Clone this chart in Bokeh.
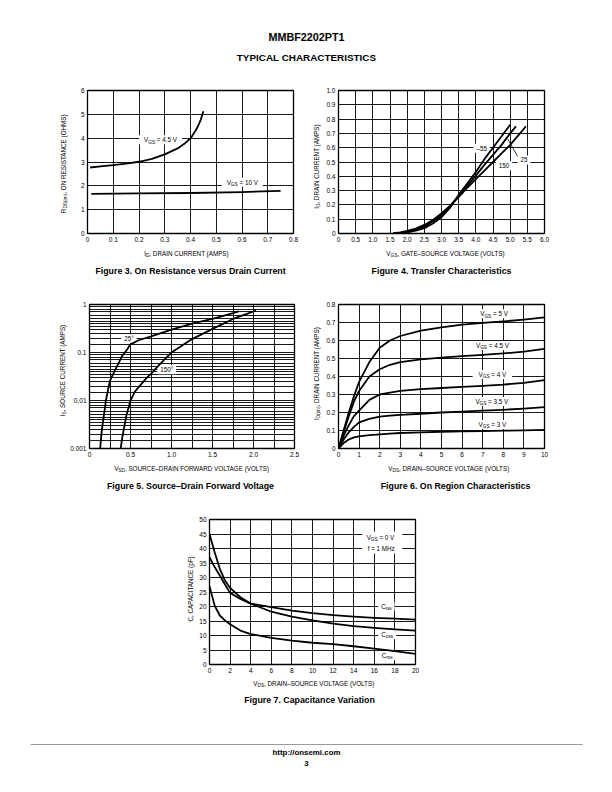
import math
from bokeh.plotting import figure
from bokeh.models import Range1d, FixedTicker, Label
from bokeh.layouts import column, row
from bokeh.embed import file_html
from bokeh.resources import INLINE

FONT = "Liberation Sans"

# ---------------- data ----------------
# Figure 3: on resistance vs drain current
f3_x_ticks = [0, 0.1, 0.2, 0.3, 0.4, 0.5, 0.6, 0.7, 0.8]
f3_x_labels = ["0", "0.1", "0.2", "0.3", "0.4", "0.5", "0.6", "0.7", "0.8"]
f3_y_ticks = [0, 1, 2, 3, 4, 5, 6]
f3_y_labels = ["0", "1", "2", "3", "4", "5", "6"]
f3_id_45 = [0.01, 0.05, 0.1, 0.15, 0.2, 0.25, 0.3, 0.35, 0.38, 0.4, 0.42, 0.43, 0.44, 0.45]
f3_r_45 = [2.77, 2.82, 2.87, 2.93, 3.01, 3.13, 3.32, 3.57, 3.8, 3.99, 4.32, 4.52, 4.78, 5.13]
f3_id_10 = [0.015, 0.2, 0.4, 0.6, 0.75]
f3_r_10 = [1.66, 1.68, 1.7, 1.74, 1.79]

# Figure 4: transfer characteristics
f4_x_ticks = [0, 0.5, 1, 1.5, 2, 2.5, 3, 3.5, 4, 4.5, 5, 5.5, 6]
f4_x_labels = ["0", "0.5", "1.0", "1.5", "2.0", "2.5", "3.0", "3.5", "4.0", "4.5", "5.0", "5.5", "6.0"]
f4_y_ticks = [0, 0.1, 0.2, 0.3, 0.4, 0.5, 0.6, 0.7, 0.8, 0.9, 1]
f4_y_labels = ["0", "0.1", "0.2", "0.3", "0.4", "0.5", "0.6", "0.7", "0.8", "0.9", "1.0"]
f4_vgs_m55 = [1.6, 1.8, 2.0, 2.25, 2.5, 2.75, 3.0, 3.25, 3.5, 3.75, 4.0, 4.25, 4.5, 4.75, 5.0]
f4_id_m55 = [0.0, 0.003, 0.008, 0.02, 0.037, 0.07, 0.115, 0.18, 0.27, 0.35, 0.43, 0.52, 0.6, 0.68, 0.76]
f4_vgs_25 = [1.6, 1.8, 2.0, 2.25, 2.5, 2.75, 3.0, 3.25, 3.5, 3.75, 4.0, 4.25, 4.5, 4.75, 5.0, 5.17]
f4_id_25 = [0.0, 0.005, 0.012, 0.027, 0.048, 0.085, 0.13, 0.19, 0.265, 0.335, 0.405, 0.48, 0.55, 0.62, 0.7, 0.75]
f4_vgs_150 = [1.6, 1.8, 2.0, 2.25, 2.5, 2.75, 3.0, 3.25, 3.5, 3.75, 4.0, 4.25, 4.5, 4.75, 5.0, 5.25, 5.46]
f4_id_150 = [0.003, 0.008, 0.018, 0.035, 0.06, 0.095, 0.14, 0.195, 0.255, 0.32, 0.38, 0.44, 0.5, 0.56, 0.62, 0.69, 0.75]

# Figure 5: source-drain forward voltage (log y)
f5_x_ticks = [0, 0.5, 1, 1.5, 2, 2.5]
f5_x_labels = ["0", "0.5", "1.0", "1.5", "2.0", "2.5"]
f5_x_grid = [0, 0.25, 0.5, 0.75, 1, 1.25, 1.5, 1.75, 2, 2.25, 2.5]
f5_y_ticks = [0.001, 0.01, 0.1, 1]
f5_y_labels = ["0.001", "0.01", "0.1", "1"]
f5_decades = [0.001, 0.01, 0.1]
f5_grid_mult = [1, 1.5, 2, 2.5, 3, 3.5, 4, 4.5, 5, 6, 7, 8, 9]
f5_vsd_25 = [0.13, 0.15, 0.18, 0.2, 0.23, 0.25, 0.3, 0.35, 0.4, 0.45, 0.5, 0.6, 0.75, 1.0, 1.25, 1.5, 1.75, 1.82]
f5_is_25 = [0.001, 0.0024, 0.0055, 0.01, 0.018, 0.0256, 0.039, 0.058, 0.086, 0.11, 0.148, 0.18, 0.216, 0.3, 0.4, 0.5, 0.66, 0.72]
f5_vsd_150 = [0.38, 0.4, 0.45, 0.5, 0.55, 0.6, 0.7, 0.75, 0.85, 1.0, 1.25, 1.5, 1.75, 2.03]
f5_is_150 = [0.001, 0.0017, 0.0049, 0.01, 0.015, 0.019, 0.03, 0.036, 0.055, 0.1, 0.19, 0.31, 0.5, 0.75]

# Figure 6: on region characteristics
f6_x_ticks = [0, 1, 2, 3, 4, 5, 6, 7, 8, 9, 10]
f6_x_labels = ["0", "1", "2", "3", "4", "5", "6", "7", "8", "9", "10"]
f6_y_ticks = [0, 0.1, 0.2, 0.3, 0.4, 0.5, 0.6, 0.7, 0.8]
f6_y_labels = ["0", "0.1", "0.2", "0.3", "0.4", "0.5", "0.6", "0.7", "0.8"]
f6_vds = [0, 0.25, 0.5, 0.75, 1, 1.5, 2, 2.5, 3, 4, 5, 6, 7, 8, 9, 10]
f6_id_5 = [0, 0.1, 0.2, 0.29, 0.37, 0.48, 0.56, 0.6, 0.625, 0.655, 0.673, 0.688, 0.698, 0.706, 0.716, 0.728]
f6_id_45 = [0, 0.09, 0.18, 0.26, 0.32, 0.4, 0.44, 0.465, 0.48, 0.495, 0.505, 0.513, 0.52, 0.528, 0.538, 0.553]
f6_id_4 = [0, 0.07, 0.13, 0.18, 0.21, 0.27, 0.3, 0.31, 0.32, 0.33, 0.336, 0.342, 0.348, 0.355, 0.365, 0.38]
f6_id_35 = [0, 0.05, 0.09, 0.12, 0.145, 0.165, 0.177, 0.183, 0.187, 0.193, 0.2, 0.205, 0.21, 0.215, 0.222, 0.23]
f6_id_3 = [0, 0.03, 0.05, 0.062, 0.067, 0.074, 0.079, 0.083, 0.086, 0.09, 0.093, 0.095, 0.097, 0.099, 0.101, 0.103]
f6_vgs_labels = ["5 V", "4.5 V", "4 V", "3.5 V", "3 V"]

# Figure 7: capacitance variation
f7_x_ticks = [0, 2, 4, 6, 8, 10, 12, 14, 16, 18, 20]
f7_x_labels = ["0", "2", "4", "6", "8", "10", "12", "14", "16", "18", "20"]
f7_y_ticks = [0, 5, 10, 15, 20, 25, 30, 35, 40, 45, 50]
f7_y_labels = ["0", "5", "10", "15", "20", "25", "30", "35", "40", "45", "50"]
f7_vds = [0, 0.5, 1, 1.5, 2, 3, 4, 6, 8, 10, 12, 14, 16, 18, 20]
f7_ciss = [37, 33.6, 30.7, 27.6, 24.7, 22.6, 21, 19.8, 18.6, 17.7, 17, 16.5, 16.1, 15.8, 15.5]
f7_coss = [45, 38.7, 33, 29, 26.4, 23.2, 21, 18.2, 16.5, 15.2, 14.1, 13.2, 12.6, 12.1, 11.7]
f7_crss = [27, 20.3, 16.9, 15.2, 13.9, 11.7, 10.5, 9.2, 8.2, 7.5, 7, 6.3, 5.5, 4.6, 3.7]

# ---------------- helpers ----------------
AW = {' ': 278, '=': 584, '.': 278, ',': 278, '-': 333, '–': 556, '(': 333, ')': 333,
      '°': 400, 'A': 667, 'C': 722, 'D': 722, 'E': 667, 'F': 611, 'G': 778, 'H': 722,
      'I': 278, 'L': 556, 'M': 833, 'N': 722, 'O': 778, 'P': 667, 'R': 722, 'S': 667,
      'T': 611, 'U': 722, 'V': 667, 'W': 944, 'a': 556, 'c': 500, 'f': 278, 'i': 222,
      'n': 556, 'o': 556, 'p': 556, 'r': 333, 's': 500, 'z': 500}

AXFS = 6.3
CAPFS = 8.8


def tw(s, fs):
    return sum(AW.get(c, 556) for c in s) * fs / 1000.0


class Canvas:
    def p2d(self, px, py):
        return px, py

    def put(self, px, py, text, fs, bold=False, angle=0.0, align="left"):
        x, y = self.p2d(px, py)
        self.p.add_layout(Label(x=x, y=y, text=text, text_font=FONT,
                                text_font_size="%.2fpx" % fs,
                                text_font_style="bold" if bold else "normal",
                                text_align=align, text_baseline="middle",
                                angle=angle, text_color="black"))

    def rich(self, cx, cy, parts, fs, vertical=False):
        sub = fs * 0.75
        sizes = [sub if s else fs for _, s in parts]
        total = sum(tw(t, z) for (t, _), z in zip(parts, sizes))
        pos = -total / 2.0
        for (t, s), z in zip(parts, sizes):
            lead = len(t) - len(t.lstrip(" "))
            if lead:
                pos += tw(" " * lead, z)
                t = t.lstrip(" ")
            shift = fs * 0.35 if s else 0.0
            if vertical:
                self.put(cx + shift, cy - pos, t, z, angle=math.pi / 2)
            else:
                self.put(cx + pos, cy + shift, t, z)
            pos += tw(t, z)
        return total


class PageCanvas(Canvas):
    """A blank strip of the page, in page pixel coordinates (y downwards)."""

    def __init__(self, x0, y0, w, h):
        self.p = figure(width=w, height=h, x_range=Range1d(x0, x0 + w),
                        y_range=Range1d(y0 + h, y0),
                        x_axis_location=None, y_axis_location=None,
                        output_backend="svg", toolbar_location=None, min_border=0,
                        outline_line_color=None, frame_align=False,
                        background_fill_color="white", border_fill_color="white")
        self.p.grid.visible = False


class Chart(Canvas):
    def __init__(self, page_x, page_y, w, h, L, T, R, B, xr, yr, logy=False):
        self.L, self.T, self.R, self.B = L, T, R, B
        self.xr, self.yr, self.logy = xr, yr, logy
        self.p = figure(width=w, height=h, x_range=Range1d(*xr), y_range=Range1d(*yr),
                        y_axis_type="log" if logy else "linear",
                        min_border_left=L - page_x, min_border_right=page_x + w - R,
                        min_border_top=T - page_y, min_border_bottom=page_y + h - B,
                        output_backend="svg", toolbar_location=None, frame_align=False,
                        background_fill_color="white", border_fill_color="white")
        p = self.p
        p.outline_line_color = "black"
        p.outline_line_width = 1.3
        for ax in (p.xaxis[0], p.yaxis[0]):
            ax.axis_line_color = None
            ax.major_tick_line_color = None
            ax.minor_tick_line_color = None
            ax.major_tick_in = 0
            ax.major_tick_out = 0
            ax.minor_tick_in = 0
            ax.minor_tick_out = 0
            ax.major_label_text_font = FONT
            ax.major_label_text_font_size = "6.5px"
            ax.major_label_text_color = "black"
            ax.major_label_standoff = 3

    def ticks(self, xt, xl, yt, yl, xg=None, yg=None):
        p = self.p
        p.xaxis.ticker = FixedTicker(ticks=xt)
        p.xaxis.major_label_overrides = dict(zip(xt, xl))
        p.yaxis.ticker = FixedTicker(ticks=yt)
        p.yaxis.major_label_overrides = dict(zip(yt, yl))
        p.xgrid.ticker = FixedTicker(ticks=xg if xg is not None else xt)
        p.ygrid.ticker = FixedTicker(ticks=yg if yg is not None else yt)
        for g in (p.xgrid[0], p.ygrid[0]):
            g.grid_line_color = "black"
            g.grid_line_width = 0.9
            g.grid_line_alpha = 1.0

    def p2d(self, px, py):
        fx = (px - self.L) / (self.R - self.L)
        fy = (self.B - py) / (self.B - self.T)
        x = self.xr[0] + fx * (self.xr[1] - self.xr[0])
        if self.logy:
            a, b = math.log10(self.yr[0]), math.log10(self.yr[1])
            y = 10 ** (a + fy * (b - a))
        else:
            y = self.yr[0] + fy * (self.yr[1] - self.yr[0])
        return x, y

    def d2p(self, x, y):
        px = self.L + (x - self.xr[0]) / (self.xr[1] - self.xr[0]) * (self.R - self.L)
        if self.logy:
            a, b = math.log10(self.yr[0]), math.log10(self.yr[1])
            fy = (math.log10(y) - a) / (b - a)
        else:
            fy = (y - self.yr[0]) / (self.yr[1] - self.yr[0])
        py = self.B - fy * (self.B - self.T)
        return px, py

    def box(self, cx, cy, w, h):
        l, b = self.p2d(cx - w / 2.0, cy + h / 2.0)
        r, t = self.p2d(cx + w / 2.0, cy - h / 2.0)
        self.p.quad(left=[l], right=[r], top=[t], bottom=[b],
                    fill_color="white", line_color=None)

    def tag(self, xd, yd, parts, fs=6.3, padx=5, h=9):
        cx, cy = self.d2p(xd, yd)
        sub = fs * 0.75
        total = sum(tw(t, sub if s else fs) for t, s in parts)
        self.box(cx, cy, total + 2 * padx, h)
        return (cx, cy, parts, fs)

    def curve(self, xs, ys):
        self.p.line(xs, ys, line_color="black", line_width=1.8, line_join="round")

    def draw_tags(self, tags):
        for (cx, cy, parts, fs) in tags:
            self.rich(cx, cy, parts, fs)


# ---------------- header ----------------
hdr = PageCanvas(0, 0, 612, 76)
hdr.put(306, 36, "MMBF2202PT1", 10.8, bold=True, align="center")
hdr.put(306, 56.5, "TYPICAL CHARACTERISTICS", 9.9, bold=True, align="center")

# ---------------- row 1: figures 3 and 4 ----------------
yl3 = PageCanvas(0, 76, 70, 171)
c3 = Chart(70, 76, 235, 171, 87, 90, 293, 233, (0, 0.8), (0, 6))
c3.ticks(f3_x_ticks, f3_x_labels, f3_y_ticks, f3_y_labels)
t3 = [c3.tag(0.2835, 3.93, [("V", 0), ("GS", 1), (" = 4.5 V", 0)]),
      c3.tag(0.601, 2.15, [("V", 0), ("GS", 1), (" = 10 V", 0)])]
c3.curve(f3_id_45, f3_r_45)
c3.curve(f3_id_10, f3_r_10)
c3.draw_tags(t3)
yl3.rich(63, 163, [("R", 0), ("DS(on)", 1), (", ON RESISTANCE (OHMS)", 0)], AXFS, vertical=True)

yl4 = PageCanvas(305, 76, 18, 171)
c4 = Chart(323, 76, 289, 171, 337, 90, 544, 233, (0, 6), (0, 1))
c4.ticks(f4_x_ticks, f4_x_labels, f4_y_ticks, f4_y_labels)
t4 = [c4.tag(4.17, 0.596, [("–55", 0)], padx=3),
      c4.tag(4.82, 0.474, [("150", 0)], padx=3),
      c4.tag(5.40, 0.514, [("25", 0)], padx=3)]
c4.curve(f4_vgs_m55, f4_id_m55)
c4.curve(f4_vgs_25, f4_id_25)
c4.curve(f4_vgs_150, f4_id_150)
lx0, ly0 = c4.p2d(517, 156)
c4.p.line([lx0, 4.93], [ly0, 0.66], line_color="black", line_width=0.8)
c4.draw_tags(t4)
yl4.rich(316, 166, [("I", 0), ("D", 1), (", DRAIN CURRENT (AMPS)", 0)], AXFS, vertical=True)

txt1 = PageCanvas(0, 247, 612, 43)
txt1.rich(186, 253, [("I", 0), ("D", 1), (", DRAIN CURRENT (AMPS)", 0)], AXFS)
txt1.put(190, 270, "Figure 3. On Resistance versus Drain Current", CAPFS, bold=True, align="center")
txt1.rich(446, 253, [("V", 0), ("GS", 1), (", GATE–SOURCE VOLTAGE (VOLTS)", 0)], AXFS)
txt1.put(441, 270, "Figure 4. Transfer Characteristics", CAPFS, bold=True, align="center")

# ---------------- row 2: figures 5 and 6 ----------------
yl5 = PageCanvas(0, 290, 67, 172)
c5 = Chart(67, 290, 238, 172, 87, 304, 294, 448, (0, 2.5), (0.001, 1), logy=True)
f5_y_grid = [d * m for d in f5_decades for m in f5_grid_mult] + [1]
c5.ticks(f5_x_ticks, f5_x_labels, f5_y_ticks, f5_y_labels, xg=f5_x_grid, yg=f5_y_grid)
t5 = [c5.tag(0.48, 0.193, [("25°", 0)], padx=3),
      c5.tag(0.942, 0.0437, [("150°", 0)], padx=3)]
c5.curve(f5_vsd_25, f5_is_25)
c5.curve(f5_vsd_150, f5_is_150)
c5.draw_tags(t5)
yl5.rich(61.5, 370, [("I", 0), ("S", 1), (", SOURCE CURRENT (AMPS)", 0)], AXFS, vertical=True)

yl6 = PageCanvas(305, 290, 18, 172)
c6 = Chart(323, 290, 289, 172, 337, 304, 544, 448, (0, 10), (0, 0.8))
c6.ticks(f6_x_ticks, f6_x_labels, f6_y_ticks, f6_y_labels)
f6_tag_pos = [(7.55, 0.748), (7.47, 0.572), (7.47, 0.411), (7.44, 0.261), (7.47, 0.133)]
t6 = [c6.tag(x, y, [("V", 0), ("GS", 1), (" = " + s, 0)], padx=6)
      for (x, y), s in zip(f6_tag_pos, f6_vgs_labels)]
for ys in (f6_id_5, f6_id_45, f6_id_4, f6_id_35, f6_id_3):
    c6.curve(f6_vds, ys)
c6.draw_tags(t6)
yl6.rich(316, 373, [("I", 0), ("D(on)", 1), (", DRAIN CURRENT (AMPS)", 0)], AXFS, vertical=True)

txt2 = PageCanvas(0, 462, 612, 43)
txt2.rich(192, 468, [("V", 0), ("SD", 1), (", SOURCE–DRAIN FORWARD VOLTAGE (VOLTS)", 0)], AXFS)
txt2.put(190, 485, "Figure 5. Source–Drain Forward Voltage", CAPFS, bold=True, align="center")
txt2.rich(449, 468, [("V", 0), ("DS", 1), (", DRAIN–SOURCE VOLTAGE (VOLTS)", 0)], AXFS)
txt2.put(455, 485, "Figure 6. On Region Characteristics", CAPFS, bold=True, align="center")

# ---------------- row 3: figure 7 ----------------
yl7 = PageCanvas(0, 505, 196, 173)
c7 = Chart(196, 505, 416, 173, 209, 519, 415, 664, (0, 20), (0, 50))
c7.ticks(f7_x_ticks, f7_x_labels, f7_y_ticks, f7_y_labels)
c7.box(381.7, 542, 40, 22)
t7 = [c7.d2p(16.6, 43.7) + ([("V", 0), ("GS", 1), (" = 0 V", 0)], 6.3),
      c7.d2p(16.67, 40.1) + ([("f = 1 MHz", 0)], 6.3),
      c7.tag(17.18, 20.1, [("C", 0), ("iss", 1)], padx=3),
      c7.tag(17.25, 10.3, [("C", 0), ("oss", 1)], padx=3),
      c7.tag(17.25, 3.1, [("C", 0), ("rss", 1)], padx=3)]
c7.curve(f7_vds, f7_ciss)
c7.curve(f7_vds, f7_coss)
c7.curve(f7_vds, f7_crss)
c7.draw_tags(t7)
yl7.rich(190, 588, [("C, CAPACITANCE (pF)", 0)], AXFS, vertical=True)

# ---------------- bottom strip: fig 7 texts + footer ----------------
bot = PageCanvas(0, 678, 612, 110)
bot.rich(314, 683, [("V", 0), ("DS", 1), (", DRAIN–SOURCE VOLTAGE (VOLTS)", 0)], AXFS)
bot.put(309, 699, "Figure 7. Capacitance Variation", CAPFS, bold=True, align="center")
bot.p.segment(x0=[30], y0=[744], x1=[582], y1=[744], line_color="#9a9a9a", line_width=1)
bot.put(306, 752, "http://onsemi.com", 7.9, bold=True, align="center")
bot.put(306, 763, "3", 7.9, bold=True, align="center")

layout = column(hdr.p,
                row(yl3.p, c3.p, yl4.p, c4.p),
                txt1.p,
                row(yl5.p, c5.p, yl6.p, c6.p),
                txt2.p,
                row(yl7.p, c7.p),
                bot.p)
open("out.html", "w").write(file_html(layout, INLINE))
